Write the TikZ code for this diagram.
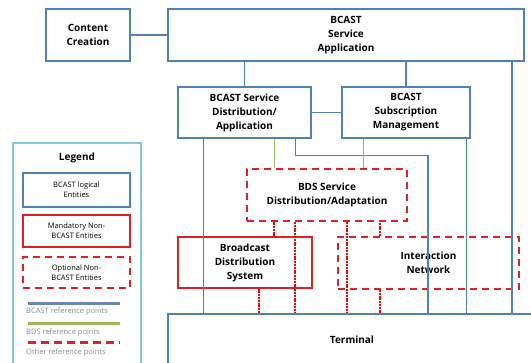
\documentclass[tikz,border=0pt]{standalone}
\usepackage{fontspec}
\setmainfont{Open Sans}
\definecolor{bcastblue}{HTML}{4F81BD}
\definecolor{legblue}{HTML}{6A86B8}
\definecolor{bdsgreen}{HTML}{9BBB59}
\definecolor{nonred}{HTML}{E31E24}
\definecolor{legframe}{HTML}{86C9DD}
\definecolor{leggray}{HTML}{8A8A8A}
\tikzset{
    entity/.style={shape=rectangle,draw=bcastblue,line width=1.2pt,align=center,
        font=\fontsize{10}{14}\selectfont\bfseries,inner sep=0pt},
    mandatory/.style={entity,draw=nonred},
    optional/.style={entity,draw=nonred,line width=2pt,dash pattern=on 7pt off 5pt},
    bcastref/.style={draw=bcastblue,line width=1.2pt},
    bdsref/.style={draw=bdsgreen,line width=1pt},
    otherref/.style={draw=red,line width=2.2pt,dash pattern=on 2pt off 0.8pt},
    legitem/.style={font=\fontsize{7.5}{10}\selectfont,inner sep=0pt,minimum width=107pt}
}
\begin{document}
\begin{tikzpicture}[x=1pt,y=-1pt]
    \useasboundingbox (0,0) rectangle (531,363);
    \clip (0,0) rectangle (531,363);

    % entities
    \node[entity,minimum width=84pt,minimum height=52pt] (cc) at (88,35) {Content\\Creation};
    \node[entity,minimum width=356pt,minimum height=52pt] (bsa) at (346,35) {BCAST\\Service\\Application};
    \node[entity,minimum width=133pt,minimum height=51pt] (bsda) at (244.5,112.5) {BCAST Service\\Distribution/\\Application};
    \node[entity,minimum width=128pt,minimum height=51pt] (bsm) at (406,112.5) {BCAST\\Subscription\\Management};
    \node[optional,minimum width=160pt,minimum height=52pt] (bdsa) at (327,195) {BDS Service\\Distribution/Adaptation};
    \node[mandatory,minimum width=134pt,minimum height=51pt] (bds) at (245,262.5) {Broadcast\\Distribution\\System};
    \node[optional,minimum width=181pt,minimum height=52pt] (inet) at (428.5,263) {Interaction\\Network};
    \node[entity,minimum width=384pt,minimum height=52pt] (term) at (360,340) {\makebox[0pt]{Terminal}\hspace{16pt}};

    % BCAST reference points
    \path[bcastref] (cc) edge (bsa);
    \path[bcastref] (bsda) edge (bsm);
    \draw[bcastref] (bsda.north) -- (bsda.north |- bsa.south);
    \draw[bcastref] (bsm.north) -- (bsm.north |- bsa.south);
    \draw[bcastref] ([xshift=166pt]bsa.south) -- ([xshift=166pt]bsa.south |- term.north);
    \draw[bcastref] ([xshift=-4pt]bsm.south east) -- ([xshift=-4pt]bsm.south east |- term.north);
    \draw[bcastref] ([xshift=26pt]bsda.south west) -- ([xshift=26pt]bsda.south west |- term.north);
    \draw[bcastref] ([xshift=-16pt]bsda.south east) -- ++(0,17) -| ([xshift=68pt]term.north);

    % BDS reference points
    \draw[bdsref] ([xshift=-37pt]bsda.south east) -- ([xshift=-37pt]bsda.south east |- bdsa.north);
    \draw[bdsref] ([xshift=22pt]bsm.south west) -- ([xshift=22pt]bsm.south west |- bdsa.north);

    % other reference points
    \draw[otherref] ([xshift=29pt]bds.north) -- ([xshift=29pt]bds.north |- bdsa.south);
    \draw[otherref] ([xshift=50pt]bds.north |- bdsa.south) -- ([xshift=50pt]bds.north |- term.north);
    \draw[otherref] ([xshift=14pt]bds.south) -- ([xshift=14pt]bds.south |- term.north);
    \draw[otherref] ([xshift=10pt]inet.north west |- bdsa.south) -- ([xshift=10pt]inet.north west |- term.north);
    \draw[otherref] ([xshift=43pt]inet.north west) -- ([xshift=43pt]inet.north west |- bdsa.south);
    \draw[otherref] ([xshift=43pt]inet.south west) -- ([xshift=43pt]inet.south west |- term.north);

    % legend
    \node[draw=legframe,line width=1.2pt,minimum width=128pt,minimum height=232pt] (legend) at (77,259) {};
    \node[font=\fontsize{10}{12}\selectfont\bfseries] (legtitle) at (77,158) {Legend};
    \node[entity,legitem,font=\fontsize{7.5}{10}\selectfont,minimum height=34pt] (leg1) at (76.5,190) {BCAST logical\\Entities};
    \node[mandatory,legitem,font=\fontsize{7.5}{10}\selectfont,minimum height=32pt] (leg2) at (76.5,231) {Mandatory Non-\\BCAST Entities};
    \node[optional,legitem,font=\fontsize{7.5}{10}\selectfont,minimum height=31pt] (leg3) at (76.5,272.5) {Optional Non-\\BCAST Entities};
    \draw[draw=legblue,line width=3pt] (28,304) -- (120,304);
    \node[anchor=west,text=leggray,font=\fontsize{7.5}{9}\selectfont,inner sep=0pt] (legt1) at (26,312) {BCAST reference points};
    \draw[draw=bdsgreen,line width=3pt] (28,324) -- (120,324);
    \node[anchor=west,text=leggray,font=\fontsize{7.5}{9}\selectfont,inner sep=0pt] (legt2) at (26,333) {BDS reference points};
    \draw[draw=nonred,line width=3pt,dash pattern=on 8pt off 5pt] (28,343) -- (120,343);
    \node[anchor=west,text=leggray,font=\fontsize{7.5}{9}\selectfont,inner sep=0pt] (legt3) at (26,353) {Other reference points};
\end{tikzpicture}
\end{document}
